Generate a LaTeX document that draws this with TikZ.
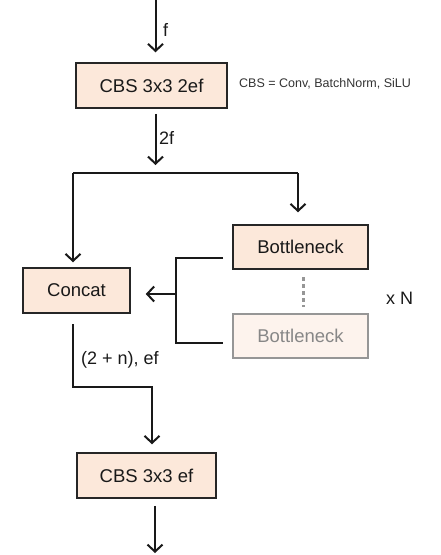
\documentclass[tikz,border=0pt]{standalone}
\usepackage{fontspec}
\setmainfont{Liberation Sans}
\usetikzlibrary{arrows.meta}
\definecolor{peach}{RGB}{252,232,218}
\definecolor{peachlight}{RGB}{253,243,237}
\definecolor{fadeline}{RGB}{150,150,150}
\definecolor{fadetext}{RGB}{135,135,135}
\begin{document}
\begin{tikzpicture}[x=1pt,y=-1pt,
  blk/.style={draw=black!85, line width=1.5pt, fill=peach, inner sep=0pt,
    font=\fontsize{18.5}{21}\selectfont, text=black!90},
  fadeblk/.style={blk, draw=fadeline, fill=peachlight, text=fadetext},
  link/.style={line width=2pt, black!90},
  arr/.style={link, -{Straight Barb[length=7pt,width=15pt]}},
  lbl/.style={font=\fontsize{18}{20}\selectfont, text=black!90, inner sep=0pt, anchor=west},
  note/.style={font=\fontsize{12.5}{14}\selectfont, text=black!80, inner sep=0pt, anchor=west}]
\useasboundingbox (0,0) rectangle (441,555);

% blocks
\node[blk, minimum width=151pt, minimum height=45pt] (cbsA) at (151.5,85.5) {CBS 3x3 2ef};
\node[blk, minimum width=107pt, minimum height=45pt] (concat) at (76.5,290.5) {Concat};
\node[blk, minimum width=135pt, minimum height=44pt] (bneck) at (300.5,247) {Bottleneck};
\node[fadeblk, minimum width=135pt, minimum height=44pt] (bneckN) at (300.5,336) {Bottleneck};
\node[blk, minimum width=139pt, minimum height=45pt] (cbsB) at (146.5,475.5) {CBS 3x3 ef};

% labels
\node[note] (legend) at (239,84) {CBS = Conv, BatchNorm, SiLU};
\node[lbl] (lf) at (163,30) {f};
\node[lbl] (l2f) at (159,138) {2f};
\node[lbl] (lcat) at (81,360) {(2 + n), ef};
\node[lbl] (lrep) at (386,298) {x N};

% routing points
\coordinate (in) at (155.5,0);
\coordinate (split) at (155.5,173);
\coordinate (splitL) at (73,173);
\coordinate (splitR) at (298,173);
\coordinate (gatherT) at (223,258);
\coordinate (gatherB) at (223,343);
\coordinate (gather) at (176,294);
\coordinate (catOut) at (73,324);
\coordinate (bend) at (152,387);
\coordinate (out) at (155,553);

% input and first block
\draw[arr] (in) -- ([yshift=10pt]cbsA.north -| in);
\draw[arr] ([yshift=-5pt]cbsA.south -| in) -- ([yshift=8pt]split);

% split into two branches
\draw[link] (splitL) -- (splitR);
\draw[arr] (splitL) -- ([yshift=5pt]concat.north -| splitL);
\draw[arr] (splitR) -- ([yshift=12pt]bneck.north -| splitR);

% bottleneck outputs gathered into concat
\draw[link] (gatherT) -| (gather) |- (gatherB);
\draw[arr] (gather) -- ([xshift=15pt]concat.east |- gather);

% repetition marker
\draw[fadeline, line width=3pt, dash pattern=on 4pt off 3pt] (303,277) -- (303,307);

% concat to final block
\draw[arr] (catOut) |- (bend) -- ([yshift=8pt]cbsB.north -| bend);
\draw[arr] ([yshift=-7pt]cbsB.south -| out) -- (out);
\end{tikzpicture}
\end{document}
